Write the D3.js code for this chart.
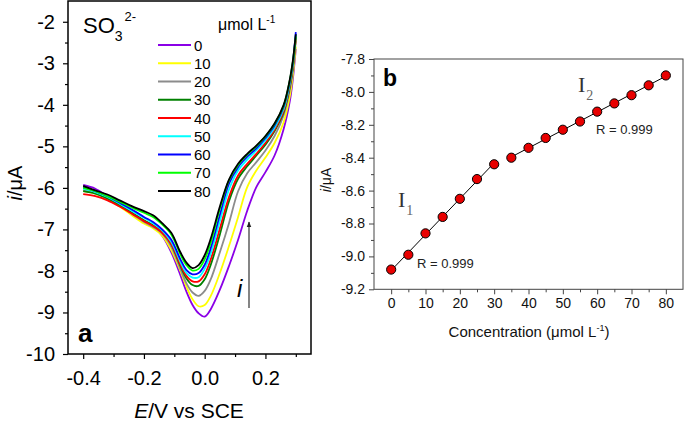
<!DOCTYPE html>
<html>
<head>
<meta charset="utf-8">
<script src="https://cdn.jsdelivr.net/npm/d3@7"></script>
<style>
  html, body { margin: 0; padding: 0; background: #fff; }
  svg { display: block; font-family: Arial, "Liberation Sans", sans-serif; }
</style>
</head>
<body>
<svg id="chart" width="685" height="421"></svg>
<script>
// ---------------- Data: panel a (DPV curves) ----------------
const potentials = [-0.40,-0.36,-0.32,-0.28,-0.24,-0.20,-0.17,-0.14,-0.11,-0.08,-0.06,-0.04,-0.02,0.00,0.02,0.05,0.08,0.11,0.14,0.17,0.20,0.23,0.26,0.28,0.29,0.30];
const concLabels = ["0","10","20","30","40","50","60","70","80"];
const curve0  = [-5.93,-6.02,-6.20,-6.40,-6.60,-6.80,-6.92,-7.15,-7.55,-8.10,-8.50,-8.82,-9.02,-9.10,-8.92,-8.45,-7.88,-7.25,-6.55,-5.98,-5.62,-5.22,-4.58,-3.92,-3.40,-2.65];
const curve10 = [-6.08,-6.14,-6.27,-6.45,-6.66,-6.86,-6.97,-7.15,-7.50,-8.00,-8.38,-8.68,-8.85,-8.82,-8.60,-8.05,-7.40,-6.70,-5.98,-5.58,-5.27,-4.92,-4.42,-3.80,-3.30,-2.60];
const curve20 = [-6.05,-6.12,-6.25,-6.42,-6.62,-6.82,-6.94,-7.10,-7.42,-7.95,-8.30,-8.52,-8.60,-8.48,-8.20,-7.55,-6.85,-6.08,-5.65,-5.38,-5.10,-4.75,-4.25,-3.65,-3.18,-2.45];
const curve30 = [-6.08,-6.14,-6.26,-6.42,-6.60,-6.78,-6.90,-7.05,-7.35,-7.88,-8.18,-8.34,-8.36,-8.20,-7.85,-7.12,-6.32,-5.78,-5.48,-5.22,-4.96,-4.63,-4.18,-3.58,-3.12,-2.38];
const curve40 = [-6.15,-6.20,-6.30,-6.45,-6.62,-6.80,-6.92,-7.08,-7.35,-7.85,-8.12,-8.25,-8.25,-8.08,-7.72,-6.98,-6.22,-5.70,-5.42,-5.18,-4.92,-4.60,-4.15,-3.55,-3.10,-2.40];
const curve50 = [-6.02,-6.10,-6.22,-6.38,-6.55,-6.72,-6.85,-7.02,-7.30,-7.78,-8.05,-8.16,-8.15,-7.95,-7.58,-6.80,-6.04,-5.58,-5.32,-5.10,-4.85,-4.55,-4.10,-3.50,-3.05,-2.30];
const curve60 = [-5.98,-6.08,-6.20,-6.36,-6.52,-6.70,-6.82,-7.00,-7.25,-7.72,-7.98,-8.08,-8.05,-7.85,-7.45,-6.65,-5.90,-5.50,-5.25,-5.05,-4.80,-4.50,-4.05,-3.45,-3.00,-2.25];
const curve70 = [-6.00,-6.08,-6.20,-6.33,-6.47,-6.60,-6.70,-6.88,-7.12,-7.60,-7.86,-7.99,-7.95,-7.72,-7.32,-6.50,-5.82,-5.45,-5.20,-5.00,-4.76,-4.46,-4.02,-3.42,-2.98,-2.35];
const curve80 = [-5.95,-6.06,-6.16,-6.30,-6.44,-6.56,-6.66,-6.85,-7.08,-7.55,-7.80,-7.93,-7.86,-7.62,-7.22,-6.45,-5.80,-5.42,-5.18,-4.98,-4.75,-4.45,-4.00,-3.40,-2.95,-2.30];
const curveColors = ["#8a00e6","#ffff00","#8c8c8c","#008000","#ff0000","#00ffff","#0000ff","#00ff00","#000000"];
const aXTicks = [-0.4,-0.2,0.0,0.2];
const aXMinor = [-0.3,-0.1,0.1,0.3];
const aYTicks = [-10,-9,-8,-7,-6,-5,-4,-3,-2];
const aYMinor = [-9.5,-8.5,-7.5,-6.5,-5.5,-4.5,-3.5,-2.5];

// ---------------- Data: panel b (calibration) ----------------
const concentrations = [0,5,10,15,20,25,30,35,40,45,50,55,60,65,70,75,80];
const peakCurrents = [-9.08,-8.99,-8.86,-8.76,-8.65,-8.53,-8.44,-8.40,-8.34,-8.28,-8.23,-8.18,-8.12,-8.07,-8.02,-7.96,-7.90];
const range1 = [0,30];
const range2 = [35,80];
const bXTicks = [0,10,20,30,40,50,60,70,80];
const bXMinor = [5,15,25,35,45,55,65,75];
const bYTicks = [-9.2,-9.0,-8.8,-8.6,-8.4,-8.2,-8.0,-7.8];
const bYMinor = [-9.1,-8.9,-8.7,-8.5,-8.3,-8.1,-7.9];

const series = [curve0,curve10,curve20,curve30,curve40,curve50,curve60,curve70,curve80];
const fmtDash = f => (v => f(v).replace("\u2212","-"));

const svg = d3.select("#chart");
svg.append("rect").attr("width",685).attr("height",421).attr("fill","#fff");

// ================= Panel a =================
const xA = d3.scaleLinear().domain([-0.45,0.35]).range([68,311]);
const yA = d3.scaleLinear().domain([-10,-1.5]).range([354,1]);

svg.append("clipPath").attr("id","clipA").append("rect")
  .attr("x",68).attr("y",1).attr("width",243).attr("height",353);

const gA = svg.append("g");
const lineA = d3.line().x(d=>xA(d[0])).y(d=>yA(d[1])).curve(d3.curveCatmullRom.alpha(0.5));
series.forEach((s,i)=>{
  gA.append("path")
    .attr("clip-path","url(#clipA)")
    .attr("d", lineA(potentials.map((e,k)=>[e,s[k]])))
    .attr("fill","none").attr("stroke",curveColors[i]).attr("stroke-width",1.8)
    .attr("stroke-linejoin","round");
});

// frame
gA.append("rect").attr("x",68).attr("y",1).attr("width",243).attr("height",353)
  .attr("fill","none").attr("stroke","#000").attr("stroke-width",1.5);

// axes
const axAB = svg.append("g").attr("transform","translate(0,354)")
  .call(d3.axisBottom(xA).tickValues(aXTicks).tickSize(5).tickPadding(12).tickFormat(fmtDash(d3.format(".1f"))));
svg.append("g").attr("transform","translate(0,354)")
  .call(d3.axisBottom(xA).tickValues(aXMinor).tickSize(3).tickFormat(""));
const axAL = svg.append("g").attr("transform","translate(68,0)")
  .call(d3.axisLeft(yA).tickValues(aYTicks).tickSize(5).tickPadding(8).tickFormat(fmtDash(d3.format("d"))));
svg.append("g").attr("transform","translate(68,0)")
  .call(d3.axisLeft(yA).tickValues(aYMinor).tickSize(3).tickFormat(""));
[axAB, axAL].forEach(a=>{
  a.selectAll("text").attr("font-size",20).attr("fill","#000").attr("font-family","Arial, 'Liberation Sans', sans-serif");
});
svg.selectAll(".domain").remove();
svg.selectAll(".tick line").attr("stroke","#000").attr("stroke-width",1.2);

// axis titles a
const tA = svg.append("text").attr("x",189).attr("y",418).attr("text-anchor","middle").attr("font-size",21);
tA.append("tspan").attr("font-style","italic").text("E");
tA.append("tspan").text("/V vs SCE");
const yTA = svg.append("text").attr("transform","translate(22,183) rotate(-90)").attr("text-anchor","middle").attr("font-size",20);
yTA.append("tspan").attr("font-style","italic").text("i");
yTA.append("tspan").text("/\u03bcA");

// SO3 2-
const so = svg.append("text").attr("x",83).attr("y",33).attr("font-size",22);
so.append("tspan").text("SO");
so.append("tspan").attr("font-size",14).attr("dy",8).text("3");
so.append("tspan").attr("font-size",13).attr("dy",-20).attr("dx",2).text("2-");

// unit
const un = svg.append("text").attr("x",218).attr("y",30).attr("font-size",16);
un.append("tspan").text("\u03bcmol L");
un.append("tspan").attr("font-size",10).attr("dy",-7).text("-1");

// legend
const legY = d3.scalePoint().domain(concLabels).range([45,191]);
concLabels.forEach((c,i)=>{
  svg.append("line").attr("x1",158).attr("x2",191).attr("y1",legY(c)).attr("y2",legY(c))
    .attr("stroke",curveColors[i]).attr("stroke-width",2);
  svg.append("text").attr("x",194).attr("y",legY(c)+5.5).attr("font-size",15).text(c);
});

// arrow and i
svg.append("defs").append("marker").attr("id","arrowHead").attr("viewBox","0 0 10 10")
  .attr("refX",9).attr("refY",5).attr("markerWidth",5).attr("markerHeight",7).attr("orient","auto")
  .append("path").attr("d","M0,1 L10,5 L0,9 Z").attr("fill","#222");
svg.append("line").attr("x1",249).attr("x2",249).attr("y1",308).attr("y2",222)
  .attr("stroke","#333").attr("stroke-width",1.2).attr("marker-end","url(#arrowHead)");
svg.append("text").attr("x",237).attr("y",297).attr("font-size",24).attr("font-style","italic").text("i");

svg.append("text").attr("x",78).attr("y",342).attr("font-size",26).attr("font-weight","bold").text("a");

// ================= Panel b =================
const xB = d3.scaleLinear().domain([-5,85]).range([374,683]);
const yB = d3.scaleLinear().domain([-9.2,-7.8]).range([289.3,59]);
const gB = svg.append("g");

gB.append("rect").attr("x",374).attr("y",59).attr("width",309).attr("height",230.3)
  .attr("fill","none").attr("stroke","#444").attr("stroke-width",1);

const axBB = svg.append("g").attr("transform","translate(0,289.3)")
  .call(d3.axisBottom(xB).tickValues(bXTicks).tickSize(5).tickPadding(4).tickFormat(d3.format("d")));
const axBBm = svg.append("g").attr("transform","translate(0,289.3)")
  .call(d3.axisBottom(xB).tickValues(bXMinor).tickSize(3).tickFormat(""));
const axBL = svg.append("g").attr("transform","translate(374,0)")
  .call(d3.axisLeft(yB).tickValues(bYTicks).tickSize(5).tickPadding(4).tickFormat(fmtDash(d3.format(".1f"))));
const axBLm = svg.append("g").attr("transform","translate(374,0)")
  .call(d3.axisLeft(yB).tickValues(bYMinor).tickSize(3).tickFormat(""));
[axBB, axBL].forEach(a=>{
  a.selectAll("text").attr("font-size",14).attr("fill","#111").attr("font-family","Arial, 'Liberation Sans', sans-serif");
});
[axBB,axBBm,axBL,axBLm].forEach(a=>{
  a.select(".domain").remove();
  a.selectAll(".tick line").attr("stroke","#444").attr("stroke-width",1);
});

// regression lines from data
function fit(range){
  const pts = concentrations.map((c,i)=>[c,peakCurrents[i]]).filter(p=>p[0]>=range[0]&&p[0]<=range[1]);
  const mx = d3.mean(pts,p=>p[0]), my = d3.mean(pts,p=>p[1]);
  const b = d3.sum(pts,p=>(p[0]-mx)*(p[1]-my))/d3.sum(pts,p=>(p[0]-mx)**2);
  const a = my - b*mx;
  return [[range[0], a+b*range[0]],[range[1], a+b*range[1]]];
}
[range1, range2].forEach(r=>{
  const seg = fit(r);
  gB.append("line").attr("x1",xB(seg[0][0])).attr("y1",yB(seg[0][1]))
    .attr("x2",xB(seg[1][0])).attr("y2",yB(seg[1][1]))
    .attr("stroke","#000").attr("stroke-width",1);
});
gB.selectAll("circle").data(concentrations).join("circle")
  .attr("cx",d=>xB(d)).attr("cy",(d,i)=>yB(peakCurrents[i])).attr("r",4.6)
  .attr("fill","#e80000").attr("stroke","#000").attr("stroke-width",1);

// texts b
svg.append("text").attr("x",383).attr("y",86).attr("font-size",23).attr("font-weight","bold").text("b");
const i1 = svg.append("text").attr("x",398).attr("y",207).attr("font-family","'Liberation Serif', 'Times New Roman', serif").attr("font-size",22).attr("fill","#333");
i1.append("tspan").text("I");
i1.append("tspan").attr("font-size",14).attr("dy",8).attr("dx",1).attr("fill","#666").text("1");
const i2 = svg.append("text").attr("x",578).attr("y",92).attr("font-family","'Liberation Serif', 'Times New Roman', serif").attr("font-size",22).attr("fill","#333");
i2.append("tspan").text("I");
i2.append("tspan").attr("font-size",14).attr("dy",8).attr("dx",1).attr("fill","#666").text("2");
svg.append("text").attr("x",596).attr("y",134).attr("font-size",13).attr("fill","#222").text("R = 0.999");
svg.append("text").attr("x",417).attr("y",268).attr("font-size",13).attr("fill","#222").text("R = 0.999");

const tB = svg.append("text").attr("x",529).attr("y",337).attr("text-anchor","middle").attr("font-size",15).attr("fill","#111");
tB.append("tspan").text("Concentration (\u03bcmol L");
tB.append("tspan").attr("font-size",9).attr("dy",-6).text("-1");
tB.append("tspan").attr("dy",6).text(")");
const yTB = svg.append("text").attr("transform","translate(331,180) rotate(-90)").attr("text-anchor","middle").attr("font-size",14).attr("fill","#111");
yTB.append("tspan").attr("font-style","italic").text("i");
yTB.append("tspan").text("/\u03bcA");
</script>
</body>
</html>
